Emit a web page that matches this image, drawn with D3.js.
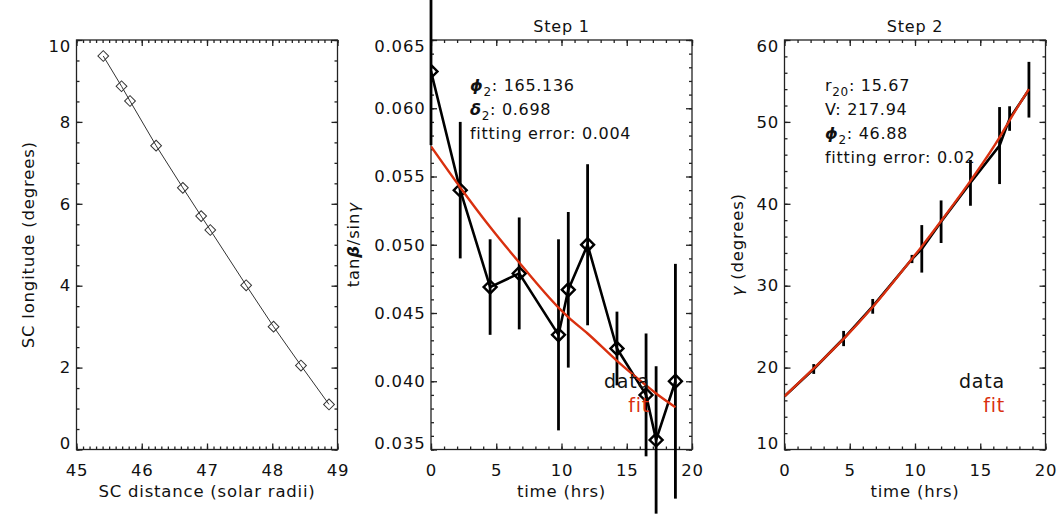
<!DOCTYPE html>
<html lang="en">
<head>
<meta charset="UTF-8">
<title>SC position and two-step fit</title>
<script src="https://d3js.org/d3.v7.min.js"></script>
<style>
    body { margin: 0; background: #fff; }
    svg { display: block; background: #fff; }
    text { font-family: "DejaVu Sans", sans-serif; fill: #111; }
</style>
</head>
<body>
<svg width="1062" height="531"></svg>
<script>
    // ---- data ----
    const scDistance  = [45.41, 45.69, 45.82, 46.22, 46.63, 46.91, 47.05, 47.60, 48.02, 48.44, 48.87];
    const scLongitude = [9.61, 8.87, 8.51, 7.42, 6.39, 5.70, 5.36, 4.01, 3.00, 2.05, 1.10];

    const timeHrs   = [0, 2.24, 4.53, 6.76, 9.77, 10.52, 12.0, 14.25, 16.48, 17.25, 18.73];
    const ratioData = [0.0627, 0.0540, 0.0469, 0.0479, 0.0434, 0.0467, 0.0500, 0.0424, 0.0390, 0.0357, 0.0400];
    const ratioErr  = [0.0054, 0.0050, 0.0035, 0.0041, 0.0070, 0.0057, 0.0059, 0.0027, 0.0045, 0.0054, 0.0086];
    const ratioFit  = [0.0572, 0.0542, 0.0513, 0.0487, 0.0454, 0.0447, 0.0435, 0.0415, 0.0397, 0.0391, 0.0381];

    const gammaData = [16.5, 19.83, 23.55, 27.48, 33.26, 34.5, 37.81, 42.56, 47.11, 50.41, 53.93];
    const gammaErr  = [0, 0.6, 0.93, 0.9, 0.5, 2.9, 2.6, 2.8, 4.7, 1.5, 3.4];
    const gammaFit  = [16.5, 19.9, 23.5, 27.4, 33.3, 34.8, 37.9, 42.8, 48.1, 50.2, 54.0];

    // tick labels
    const distTicks  = [45, 46, 47, 48, 49];
    const lonTicks   = [0, 2, 4, 6, 8, 10];
    const timeTicks  = [0, 5, 10, 15, 20];
    const ratioTicks = [0.035, 0.040, 0.045, 0.050, 0.055, 0.060, 0.065];
    const gammaTicks = [10, 20, 30, 40, 50, 60];

    const TOP = 40, BOTTOM = 449.5, H = BOTTOM - TOP;
    const RED = "#d9300f";
    const svg = d3.select("svg");

    // draws frame, ticks (inward, mirrored) and labels, returns scales + group
    function makePanel(o) {
        const w = o.x1 - o.x0;
        const g = svg.append("g").attr("transform", `translate(${o.x0},${TOP})`);
        const x = d3.scaleLinear().domain(o.xDomain).range([0, w]);
        const y = d3.scaleLinear().domain(o.yDomain).range([H, 0]);

        const styleAxis = sel => {
            sel.select(".domain").remove();
            sel.selectAll(".tick line").attr("stroke", "#222").attr("stroke-width", 1.3);
            sel.attr("font-family", null).attr("font-size", null);
            sel.selectAll(".tick text")
                .style("font-size", "16.5px")
                .style("letter-spacing", "0.8px")
                .attr("fill", "#111");
        };

        // minor ticks
        g.append("g").attr("transform", `translate(0,${H})`)
            .call(d3.axisBottom(x).tickValues(o.xMinor).tickSize(-3).tickFormat("")).call(styleAxis);
        g.append("g")
            .call(d3.axisTop(x).tickValues(o.xMinor).tickSize(-3).tickFormat("")).call(styleAxis);
        g.append("g")
            .call(d3.axisLeft(y).tickValues(o.yMinor).tickSize(-3).tickFormat("")).call(styleAxis);
        g.append("g").attr("transform", `translate(${w},0)`)
            .call(d3.axisRight(y).tickValues(o.yMinor).tickSize(-3).tickFormat("")).call(styleAxis);

        // major ticks
        g.append("g").attr("transform", `translate(0,${H})`)
            .call(d3.axisBottom(x).tickValues(o.xMajor).tickSize(-6).tickPadding(14.5).tickFormat(o.xFmt))
            .call(styleAxis);
        g.append("g")
            .call(d3.axisTop(x).tickValues(o.xMajor).tickSize(-6).tickFormat("")).call(styleAxis);
        const yAx = g.append("g")
            .call(d3.axisLeft(y).tickValues(o.yMajor).tickSize(-6).tickPadding(5.5).tickFormat(o.yFmt))
            .call(styleAxis);
        // end labels sit a little inside the frame
        yAx.selectAll(".tick text")
            .attr("y", d => d === o.yDomain[1] ? 6.5 : d === o.yDomain[0] ? -6 : 0);
        g.append("g").attr("transform", `translate(${w},0)`)
            .call(d3.axisRight(y).tickValues(o.yMajor).tickSize(-6).tickFormat("")).call(styleAxis);

        g.append("rect")
            .attr("width", w).attr("height", H)
            .attr("fill", "none").attr("stroke", "#222").attr("stroke-width", 1.3);

        const clipId = "clip" + o.id;
        g.append("clipPath").attr("id", clipId)
            .append("rect").attr("width", w).attr("height", H);

        // x title
        g.append("text")
            .attr("x", w / 2).attr("y", 491 - TOP).attr("dy", "0.35em")
            .attr("text-anchor", "middle")
            .style("font-size", "16.5px").style("letter-spacing", "0.8px")
            .text(o.xTitle);

        // y title
        const yt = g.append("text")
            .attr("transform", `translate(${o.yTitleX - o.x0},${H / 2}) rotate(-90)`)
            .attr("dy", "0.35em")
            .attr("text-anchor", "middle")
            .style("font-size", "16.5px").style("letter-spacing", "0.8px");
        o.yTitle(yt);

        if (o.title) {
            g.append("text")
                .attr("x", w / 2).attr("y", 26.5 - TOP).attr("dy", "0.35em")
                .attr("text-anchor", "middle")
                .style("font-size", "16px").style("letter-spacing", "0.8px")
                .text(o.title);
        }
        return {g, x, y, w, clip: `url(#${clipId})`};
    }

    const fmtInt = d3.format("d");
    const fmtRatio = d3.format(".3f");

    // ---------- panel 1 ----------
    const p1 = makePanel({
        id: 1, x0: 76.5, x1: 337.5,
        xDomain: [45, 49], yDomain: [0, 10],
        xMajor: distTicks, xMinor: d3.range(45, 49.001, 0.1),
        yMajor: lonTicks, yMinor: d3.range(0, 10.001, 0.5),
        xFmt: fmtInt, yFmt: fmtInt,
        xTitle: "SC distance (solar radii)",
        yTitleX: 28.5,
        yTitle: t => t.text("SC longitude (degrees)")
    });
    const p1pts = scDistance.map((d, i) => [d, scLongitude[i]]);
    p1.g.append("path")
        .datum(p1pts)
        .attr("fill", "none").attr("stroke", "#333").attr("stroke-width", 1)
        .attr("d", d3.line().x(d => p1.x(d[0])).y(d => p1.y(d[1])));
    p1.g.selectAll(".dia")
        .data(p1pts).join("path")
        .attr("transform", d => `translate(${p1.x(d[0])},${p1.y(d[1])}) rotate(45)`)
        .attr("d", d3.symbol(d3.symbolSquare, 58)())
        .attr("fill", "none").attr("stroke", "#333").attr("stroke-width", 1);

    // ---------- panel 2 ----------
    const p2 = makePanel({
        id: 2, x0: 431, x1: 692,
        xDomain: [0, 20], yDomain: [0.035, 0.065],
        xMajor: timeTicks, xMinor: d3.range(0, 20.001, 1),
        yMajor: ratioTicks, yMinor: d3.range(0.035, 0.06501, 0.001),
        xFmt: fmtInt, yFmt: fmtRatio,
        xTitle: "time (hrs)",
        yTitleX: 353.5,
        title: "Step 1",
        yTitle: t => {
            t.append("tspan").text("tan");
            t.append("tspan").style("font-weight", "bold").style("font-style", "italic").text("β");
            t.append("tspan").text("/sin");
            t.append("tspan").style("font-style", "italic").text("γ");
        }
    });
    const p2pts = timeHrs.map((d, i) => ({t: d, v: ratioData[i], e: ratioErr[i], f: ratioFit[i]}));
    // error bars are not clipped
    p2.g.selectAll(".err")
        .data(p2pts).join("line")
        .attr("x1", d => p2.x(d.t)).attr("x2", d => p2.x(d.t))
        .attr("y1", d => p2.y(d.v + d.e)).attr("y2", d => p2.y(d.v - d.e))
        .attr("stroke", "#000").attr("stroke-width", 2.8);
    p2.g.append("path")
        .datum(p2pts)
        .attr("clip-path", p2.clip)
        .attr("fill", "none").attr("stroke", "#000").attr("stroke-width", 2.6)
        .attr("stroke-linejoin", "round")
        .attr("d", d3.line().x(d => p2.x(d.t)).y(d => p2.y(d.v)));
    p2.g.append("g").attr("clip-path", p2.clip)
        .selectAll("path")
        .data(p2pts).join("path")
        .attr("transform", d => `translate(${p2.x(d.t)},${p2.y(d.v)}) rotate(45)`)
        .attr("d", d3.symbol(d3.symbolSquare, 84)())
        .attr("fill", "none").attr("stroke", "#000").attr("stroke-width", 2.4);
    p2.g.append("path")
        .datum(p2pts)
        .attr("clip-path", p2.clip)
        .attr("fill", "none").attr("stroke", RED).attr("stroke-width", 2.4)
        .attr("d", d3.line().curve(d3.curveMonotoneX).x(d => p2.x(d.t)).y(d => p2.y(d.f)));

    // ---------- panel 3 ----------
    const p3 = makePanel({
        id: 3, x0: 784.5, x1: 1045.5,
        xDomain: [0, 20], yDomain: [10, 60],
        xMajor: timeTicks, xMinor: d3.range(0, 20.001, 1),
        yMajor: gammaTicks, yMinor: d3.range(10, 60.001, 2),
        xFmt: fmtInt, yFmt: fmtInt,
        xTitle: "time (hrs)",
        yTitleX: 737,
        title: "Step 2",
        yTitle: t => {
            t.append("tspan").style("font-style", "italic").text("γ");
            t.append("tspan").text(" (degrees)");
        }
    });
    const p3pts = timeHrs.map((d, i) => ({t: d, v: gammaData[i], e: gammaErr[i], f: gammaFit[i]}));
    p3.g.selectAll(".err")
        .data(p3pts.filter(d => d.e > 0)).join("line")
        .attr("x1", d => p3.x(d.t)).attr("x2", d => p3.x(d.t))
        .attr("y1", d => p3.y(d.v + d.e)).attr("y2", d => p3.y(d.v - d.e))
        .attr("stroke", "#000").attr("stroke-width", 2.8);
    p3.g.append("path")
        .datum(p3pts)
        .attr("clip-path", p3.clip)
        .attr("fill", "none").attr("stroke", "#000").attr("stroke-width", 2.6)
        .attr("d", d3.line().x(d => p3.x(d.t)).y(d => p3.y(d.v)));
    p3.g.append("path")
        .datum(p3pts)
        .attr("clip-path", p3.clip)
        .attr("fill", "none").attr("stroke", RED).attr("stroke-width", 2.4)
        .attr("d", d3.line().curve(d3.curveMonotoneX).x(d => p3.x(d.t)).y(d => p3.y(d.f)));

    // ---------- annotations ----------
    function noteLine(g, x, y, parts) {
        const t = g.append("text").attr("x", x).attr("y", y)
            .style("font-size", "16px").style("letter-spacing", "0.7px");
        parts.forEach(p => {
            const s = t.append("tspan").text(p.s);
            if (p.greek) s.style("font-weight", "bold").style("font-style", "italic");
            if (p.sub) s.attr("dy", 5).style("font-size", "12px");
            if (p.after) s.attr("dy", -5);
        });
    }
    const notes = svg.append("g");
    noteLine(notes, 470, 91, [{s: "ϕ", greek: true}, {s: "2", sub: true}, {s: ": 165.136", after: true}]);
    noteLine(notes, 470, 115, [{s: "δ", greek: true}, {s: "2", sub: true}, {s: ": 0.698", after: true}]);
    noteLine(notes, 470, 139, [{s: "fitting error: 0.004"}]);

    noteLine(notes, 825, 91, [{s: "r"}, {s: "20", sub: true}, {s: ": 15.67", after: true}]);
    noteLine(notes, 825, 115, [{s: "V: 217.94"}]);
    noteLine(notes, 825, 139, [{s: "ϕ", greek: true}, {s: "2", sub: true}, {s: ": 46.88", after: true}]);
    noteLine(notes, 825, 163, [{s: "fitting error: 0.02"}]);

    // legends
    [650, 1005].forEach(xr => {
        svg.append("text").attr("x", xr).attr("y", 388).attr("text-anchor", "end")
            .style("font-size", "19px").style("letter-spacing", "0.8px").text("data");
        svg.append("text").attr("x", xr).attr("y", 411.5).attr("text-anchor", "end")
            .style("font-size", "19px").style("letter-spacing", "0.8px")
            .style("fill", RED).text("fit");
    });
</script>
</body>
</html>
